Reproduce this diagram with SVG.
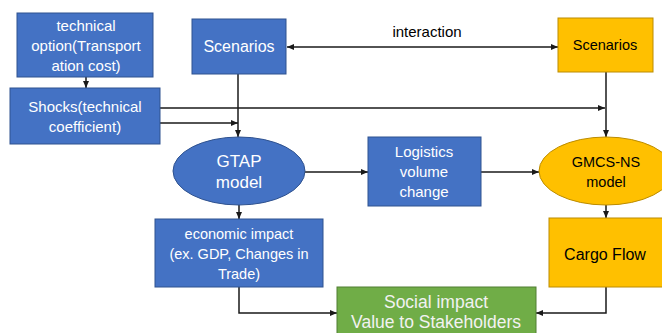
<svg xmlns="http://www.w3.org/2000/svg" width="662" height="333" viewBox="0 0 662 333">
<style>
text{font-family:"Liberation Sans",Arial,sans-serif;text-anchor:middle}
.blue{fill:#4472C4;stroke:#2F528F;stroke-width:1}
.yel{fill:#FFC000;stroke:#BC8C00;stroke-width:1}
.grn{fill:#70AD47;stroke:#507E32;stroke-width:1}
.wt{fill:#FFFFFF}
.bk{fill:#000000}
.c{fill:none;stroke:#1a1a1a;stroke-width:1.5}
</style>
<defs>
<marker id="ah" markerUnits="userSpaceOnUse" markerWidth="8" markerHeight="8" refX="7" refY="4" orient="auto">
<path d="M0,1 L7,4 L0,7 Z" fill="#1a1a1a"/>
</marker>
<marker id="as" markerUnits="userSpaceOnUse" markerWidth="8" markerHeight="8" refX="0" refY="4" orient="auto">
<path d="M7,1 L0,4 L7,7 Z" fill="#1a1a1a"/>
</marker>
</defs>
<g id="connectors">
<line class="c" x1="86" y1="77" x2="86" y2="88" marker-end="url(#ah)"/>
<line class="c" x1="238" y1="74" x2="238" y2="137" marker-end="url(#ah)"/>
<line class="c" x1="287" y1="47" x2="558" y2="47" marker-start="url(#as)" marker-end="url(#ah)"/>
<line class="c" x1="160" y1="108" x2="605" y2="108" marker-end="url(#ah)"/>
<line class="c" x1="160" y1="123" x2="238" y2="123" marker-end="url(#ah)"/>
<line class="c" x1="606" y1="72" x2="606" y2="137" marker-end="url(#ah)"/>
<line class="c" x1="305" y1="172" x2="368" y2="172" marker-end="url(#ah)"/>
<line class="c" x1="481" y1="172" x2="539" y2="172" marker-end="url(#ah)"/>
<line class="c" x1="239" y1="205" x2="239" y2="219" marker-end="url(#ah)"/>
<line class="c" x1="606" y1="205" x2="606" y2="218" marker-end="url(#ah)"/>
<polyline class="c" points="239,287 239,313 337,313" marker-end="url(#ah)"/>
<polyline class="c" points="606,287 606,313 536,313" marker-end="url(#ah)"/>
<text x="427" y="37" font-size="15" class="bk">interaction</text>
</g>
<g id="tech-option">
<rect class="blue" x="17" y="13" width="136" height="64"/>
<text x="86" y="31" font-size="15" class="wt">technical</text>
<text x="86" y="51" font-size="15" class="wt">option(Transport</text>
<text x="86" y="71" font-size="15" class="wt">ation cost)</text>
</g>
<g id="shocks">
<rect class="blue" x="10" y="88" width="150" height="56"/>
<text x="85" y="112" font-size="15" class="wt">Shocks(technical</text>
<text x="85" y="132" font-size="15" class="wt">coefficient)</text>
</g>
<g id="scenarios-gtap">
<rect class="blue" x="192" y="19" width="94" height="55"/>
<text x="239" y="52" font-size="16" class="wt">Scenarios</text>
</g>
<g id="scenarios-gmcs">
<rect class="yel" x="558" y="18" width="95" height="54"/>
<text x="605" y="50" font-size="14.5" class="bk">Scenarios</text>
</g>
<g id="gtap">
<ellipse class="blue" cx="239" cy="171" rx="66" ry="34"/>
<text x="239" y="167" font-size="17" class="wt">GTAP</text>
<text x="239" y="188" font-size="17" class="wt">model</text>
</g>
<g id="logistics">
<rect class="blue" x="368" y="137" width="113" height="69"/>
<text x="424" y="157" font-size="15" class="wt">Logistics</text>
<text x="424" y="177" font-size="15" class="wt">volume</text>
<text x="424" y="197" font-size="15" class="wt">change</text>
</g>
<g id="gmcs">
<ellipse class="yel" cx="606" cy="171" rx="67" ry="34"/>
<text x="606" y="167" font-size="14.5" class="bk">GMCS-NS</text>
<text x="606" y="187" font-size="14.5" class="bk">model</text>
</g>
<g id="economic">
<rect class="blue" x="155" y="219" width="168" height="68"/>
<text x="239" y="239" font-size="14.5" class="wt">economic impact</text>
<text x="239" y="259" font-size="14.5" class="wt">(ex. GDP, Changes in</text>
<text x="239" y="279" font-size="14.5" class="wt">Trade)</text>
</g>
<g id="cargo">
<rect class="yel" x="549" y="218" width="114" height="69"/>
<text x="605" y="260" font-size="16" class="bk">Cargo Flow</text>
</g>
<g id="social">
<rect class="grn" x="337" y="287" width="199" height="50"/>
<text x="436" y="308" font-size="17.5" fill="#F2F2F2">Social impact</text>
<text x="436" y="328" font-size="17.5" fill="#F2F2F2">Value to Stakeholders</text>
</g>
</svg>
